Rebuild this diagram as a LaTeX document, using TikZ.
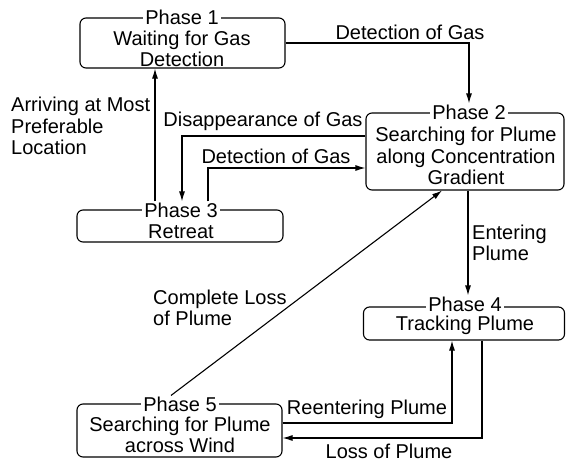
\documentclass[tikz,border=0pt]{standalone}
\usepackage{fontspec}
\setmainfont{Liberation Sans}
\usetikzlibrary{arrows.meta}
\begin{document}
\begin{tikzpicture}[x=1pt,y=-1pt,
  font=\fontsize{20}{21.5}\selectfont,
  every node/.style={inner sep=0pt},
  phbox/.style={draw,rounded corners=6pt,line width=1.1pt,minimum width=#1},
  ttl/.style={fill=white,inner xsep=2pt,inner ysep=1pt},
  body/.style={align=center},
  lbl/.style={align=left},
  arr/.style={draw,line width=1.1pt,-{Latex[length=10pt,width=6pt]}},
]
\useasboundingbox (0,0) rectangle (566,461);

% Phase boxes
\node[phbox=205pt,minimum height=50pt] (p1box) at (182.5,43) {};
\node[ttl] (p1t) at (182,17) {Phase 1};
\node[body] (p1b) at (182,49) {Waiting for Gas\\Detection};

\node[phbox=198pt,minimum height=77pt] (p2box) at (465,151.5) {};
\node[ttl] (p2t) at (469,112) {Phase 2};
\node[body] (p2b) at (466,156) {Searching for Plume\\along Concentration\\Gradient};

\node[phbox=206pt,minimum height=32pt] (p3box) at (180,226) {};
\node[ttl] (p3t) at (181,210) {Phase 3};
\node[body] (p3b) at (181,232) {Retreat};

\node[phbox=201pt,minimum height=33pt] (p4box) at (464,323.5) {};
\node[ttl] (p4t) at (465,304) {Phase 4};
\node[body] (p4b) at (465,325) {Tracking Plume};

\node[phbox=205pt,minimum height=53pt] (p5box) at (179.5,430.5) {};
\node[ttl] (p5t) at (180,404) {Phase 5};
\node[body] (p5b) at (180,435) {Searching for Plume\\across Wind};

% helper coordinates
\coordinate (dgA) at (182,136);
\coordinate (dgB) at (208,168);
\coordinate (arB) at (155,0);
\coordinate (clA) at (442,0);
\coordinate (enA) at (468,0);
\coordinate (reA) at (452,423);
\coordinate (loA) at (482,438);

% connectors
\draw[arr] (p1box.east) -| (p2t.north);
\draw[arr] (p2box.west |- dgA) -- (dgA) -- (dgA |- p3t.north);
\draw[arr] (dgB |- p3t.north) -- (dgB) -- (p2box.west |- dgB);
\draw[arr] (arB |- p3t.north) -- (arB |- p1box.south);
\draw[arr] ([xshift=-9pt]p5t.north) -- (clA |- p2box.south);
\draw[arr] (enA |- p2box.south) -- (enA |- p4t.north);
\draw[arr] (p5box.east |- reA) -- (reA) -- (reA |- p4box.south);
\draw[arr] (loA |- p4box.south) -- (loA) -- (p5box.east |- loA);

% labels
\node (l1) at (410,32) {Detection of Gas};
\node (l2) at (263,121) {Disappearance of Gas};
\node (l3) at (276,156) {Detection of Gas};
\node[lbl,anchor=west] (l4) at (11,126) {Arriving at Most\\Preferable\\Location};
\node[lbl,anchor=west] (l5) at (153,308) {Complete Loss\\of Plume};
\node[lbl,anchor=west] (l6) at (472,243) {Entering\\Plume};
\node (l7) at (367,409) {Reentering Plume};
\node (l8) at (389,451) {Loss of Plume};
\end{tikzpicture}
\end{document}
